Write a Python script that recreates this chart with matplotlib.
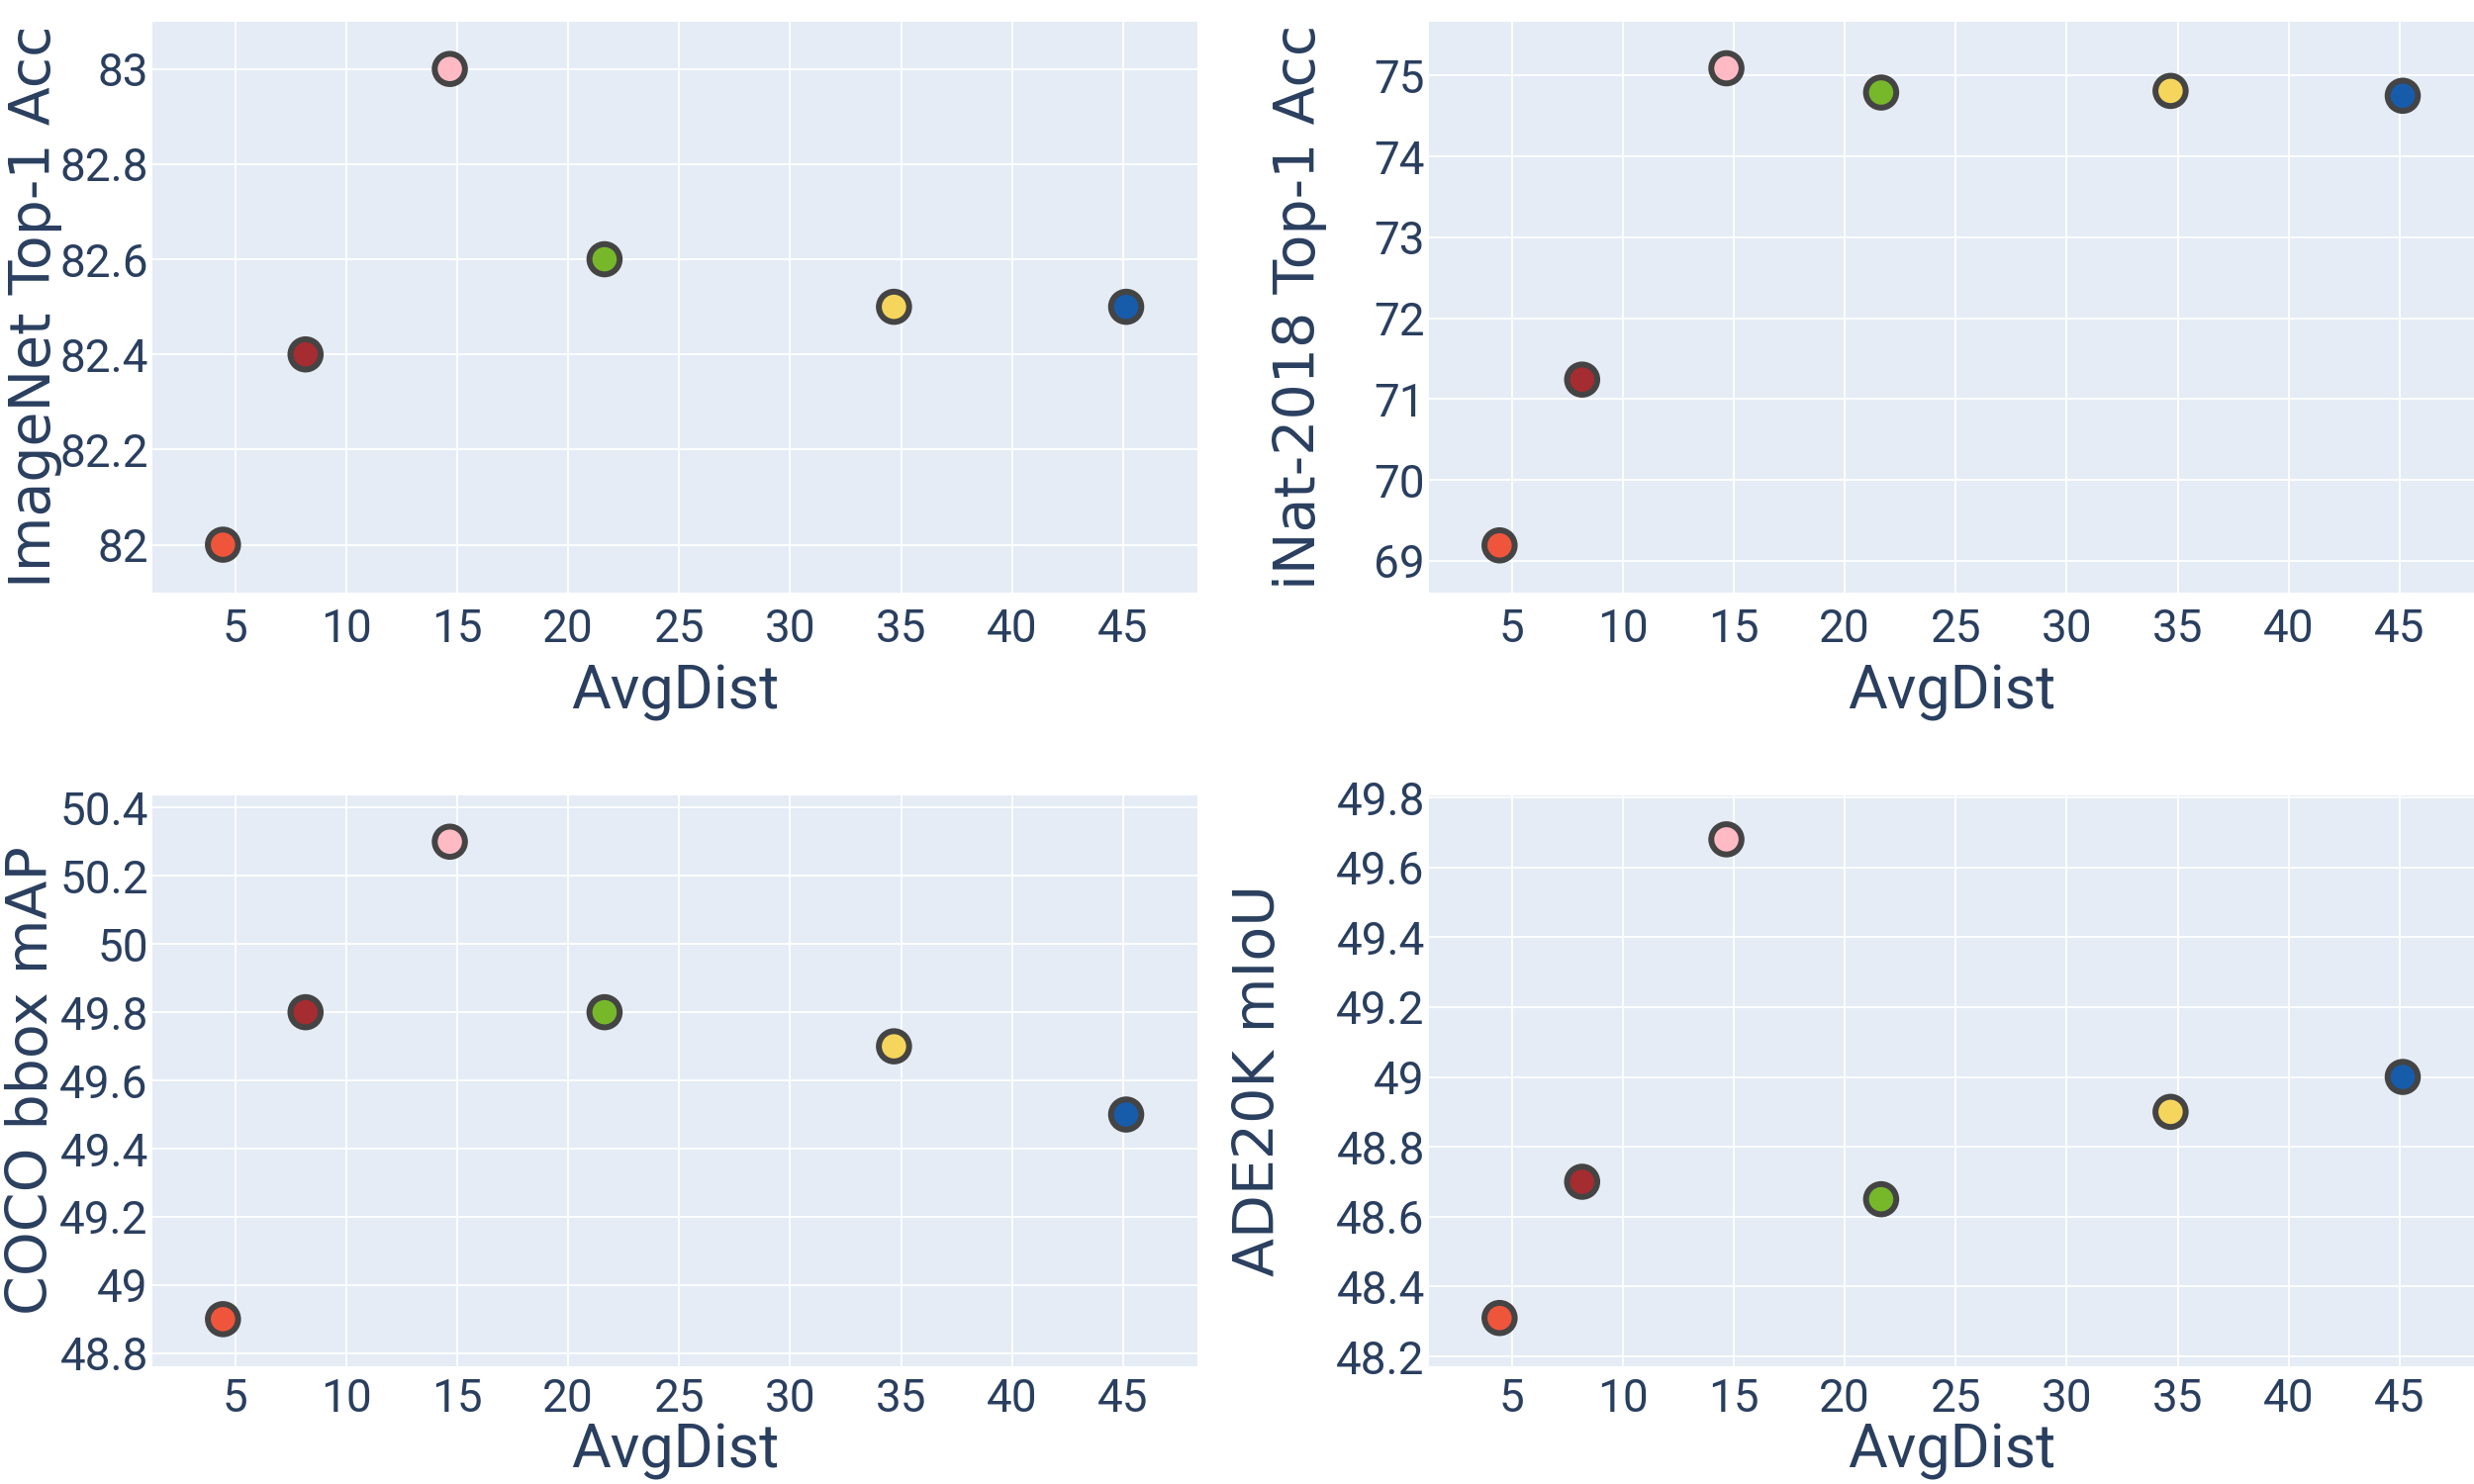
import matplotlib
matplotlib.use('Agg')
import matplotlib.pyplot as plt

# === data ===
avg_dist = [4.45, 8.17, 14.67, 21.64, 34.68, 45.14]
point_colors = ['#EF553B', '#A52C30', '#FFBAC4', '#77B82A', '#F6D55C', '#175CAB']

imagenet = [82.0, 82.4, 83.0, 82.6, 82.5, 82.5]
inat = [69.19, 71.24, 75.09, 74.79, 74.81, 74.75]
coco = [48.9, 49.8, 50.3, 49.8, 49.7, 49.5]
ade = [48.31, 48.7, 49.68, 48.65, 48.9, 49.0]

x_ticks = [5, 10, 15, 20, 25, 30, 35, 40, 45]
imagenet_ticks = [82.0, 82.2, 82.4, 82.6, 82.8, 83.0]
inat_ticks = [69, 70, 71, 72, 73, 74, 75]
coco_ticks = [48.8, 49.0, 49.2, 49.4, 49.6, 49.8, 50.0, 50.2, 50.4]
ade_ticks = [48.2, 48.4, 48.6, 48.8, 49.0, 49.2, 49.4, 49.6, 49.8]

y_titles = ['ImageNet Top-1 Acc', 'iNat-2018 Top-1 Acc', 'COCO bbox mAP', 'ADE20K mIoU']

TXT = '#2A3F5F'
BG = '#E5ECF6'
TICK_FONT = ['Roboto', 'DejaVu Sans']


def fmt(v):
    # plotly style: drop trailing .0
    s = f'{v:.1f}'
    return s[:-2] if s.endswith('.0') else s


fig = plt.figure(figsize=(25, 15), dpi=100)

panels = [
    # rect, values, yticks, ylim, ylabel x, xlabel y, x tick pad
    ([0.0616, 0.6009, 0.4224, 0.3847], imagenet, imagenet_ticks, (81.90, 83.10), -0.112, -0.175, 11),
    ([0.5776, 0.6009, 0.4224, 0.3847], inat, inat_ticks, (68.61, 75.67), -0.124, -0.175, 11),
    ([0.0616, 0.0796, 0.4224, 0.3847], coco, coco_ticks, (48.763, 50.437), -0.115, -0.150, 8),
    ([0.5776, 0.0796, 0.4224, 0.3847], ade, ade_ticks, (48.173, 49.807), -0.162, -0.150, 8),
]

for (rect, vals, yt, ylim, ylx, xly, xpad), title in zip(panels, y_titles):
    ax = fig.add_axes(rect)
    ax.set_facecolor(BG)
    for s in ax.spines.values():
        s.set_visible(False)
    ax.grid(True, color='white', linewidth=1.3)
    ax.set_axisbelow(True)

    ax.scatter(avg_dist, vals, s=22 ** 2, c=point_colors, edgecolors='#444444',
               linewidths=4.3, zorder=3)

    ax.set_xlim(1.27, 48.35)
    ax.set_ylim(*ylim)
    ax.set_xticks(x_ticks)
    ax.set_xticklabels([str(t) for t in x_ticks])
    ax.set_yticks(yt)
    ax.set_yticklabels([fmt(t) for t in yt])
    ax.tick_params(length=0, labelsize=33, labelcolor=TXT)
    ax.tick_params(axis='x', pad=xpad)
    ax.tick_params(axis='y', pad=3)
    for lab in ax.get_xticklabels() + ax.get_yticklabels():
        lab.set_family(TICK_FONT)

    ax.set_xlabel('AvgDist', fontsize=44, color=TXT, family=TICK_FONT, va='center')
    ax.xaxis.set_label_coords(0.5, xly)
    ax.set_ylabel(title, fontsize=41, color=TXT, family='DejaVu Sans', va='center')
    ax.yaxis.set_label_coords(ylx, 0.5)

fig.savefig('out.png', dpi=100, facecolor='white')
